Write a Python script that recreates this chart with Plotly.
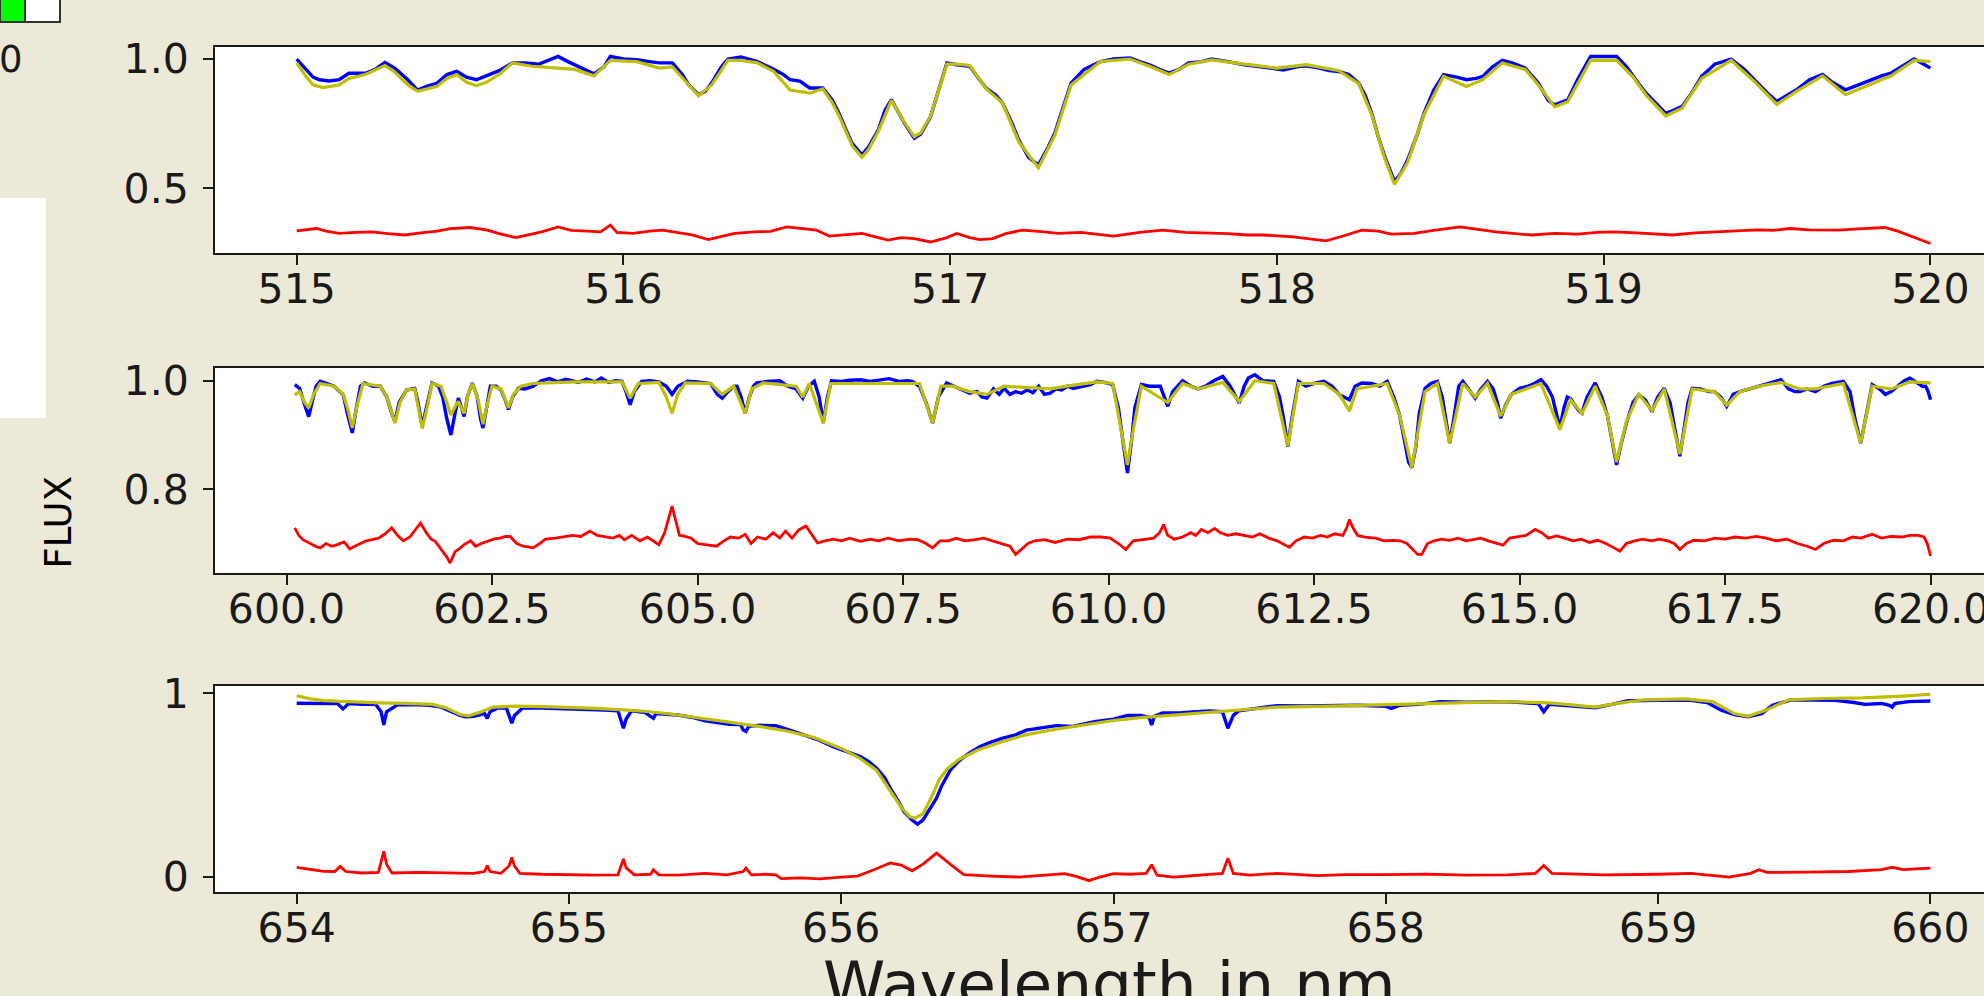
import plotly.graph_objects as go

# ---------------- data (wavelength nm, flux) ----------------
P1_OBS = [(515.00,1.000),(515.03,0.96),(515.05,0.93),(515.07,0.92),(515.10,0.915),(515.13,0.92),(515.16,0.945),(515.21,0.945),(515.24,0.96),(515.27,0.987),(515.30,0.965),(515.34,0.92),(515.37,0.88),(515.40,0.895),(515.43,0.907),(515.46,0.94),(515.49,0.952),(515.52,0.93),(515.55,0.92),(515.58,0.935),(515.62,0.955),(515.66,0.985),(515.70,0.985),(515.74,0.98),(515.78,1.0),(515.80,1.01),(515.83,0.99),(515.87,0.965),(515.91,0.943),(515.94,0.97),(515.96,1.01),(516.00,1.0),(516.04,0.997),(516.08,0.99),(516.11,0.985),(516.15,0.985),(516.18,0.94),(516.20,0.90),(516.23,0.862),(516.25,0.875),(516.27,0.907),(516.30,0.97),(516.32,1.0),(516.36,1.008),(516.41,0.99),(516.46,0.96),(516.49,0.94),(516.51,0.92),(516.54,0.915),(516.57,0.888),(516.61,0.888),(516.64,0.84),(516.66,0.79),(516.68,0.73),(516.70,0.674),(516.73,0.63),(516.75,0.66),(516.78,0.726),(516.80,0.80),(516.82,0.843),(516.84,0.80),(516.86,0.752),(516.89,0.694),(516.91,0.71),(516.94,0.778),(516.97,0.90),(516.99,0.985),(517.02,0.978),(517.06,0.972),(517.09,0.92),(517.11,0.888),(517.14,0.86),(517.16,0.83),(517.19,0.75),(517.21,0.687),(517.24,0.62),(517.27,0.59),(517.30,0.66),(517.32,0.713),(517.35,0.83),(517.37,0.907),(517.41,0.96),(517.46,0.99),(517.50,1.0),(517.55,1.004),(517.58,0.99),(517.61,0.978),(517.64,0.96),(517.67,0.946),(517.70,0.96),(517.73,0.985),(517.77,0.99),(517.80,1.0),(517.85,0.99),(517.90,0.978),(517.95,0.97),(518.00,0.96),(518.02,0.958),(518.06,0.97),(518.09,0.974),(518.13,0.965),(518.16,0.955),(518.19,0.952),(518.22,0.94),(518.25,0.907),(518.27,0.86),(518.29,0.79),(518.31,0.70),(518.33,0.623),(518.36,0.526),(518.38,0.56),(518.40,0.61),(518.43,0.71),(518.45,0.79),(518.48,0.88),(518.51,0.94),(518.55,0.93),(518.58,0.92),(518.61,0.925),(518.63,0.933),(518.66,0.97),(518.69,0.995),(518.72,0.985),(518.76,0.965),(518.80,0.907),(518.83,0.84),(518.85,0.823),(518.89,0.842),(518.92,0.92),(518.96,1.01),(519.00,1.01),(519.04,1.01),(519.07,0.97),(519.09,0.933),(519.11,0.90),(519.13,0.868),(519.16,0.83),(519.19,0.79),(519.21,0.80),(519.24,0.817),(519.27,0.87),(519.30,0.933),(519.34,0.98),(519.39,1.0),(519.43,0.96),(519.46,0.92),(519.50,0.87),(519.53,0.836),(519.56,0.86),(519.59,0.881),(519.63,0.92),(519.67,0.94),(519.70,0.91),(519.74,0.881),(519.78,0.90),(519.82,0.92),(519.85,0.935),(519.88,0.946),(519.92,0.975),(519.95,1.0),(519.98,0.98),(520.00,0.965)]

P1_FIT = [(515.00,0.985),(515.03,0.93),(515.05,0.90),(515.08,0.89),(515.13,0.90),(515.16,0.925),(515.21,0.94),(515.27,0.975),(515.30,0.95),(515.34,0.90),(515.37,0.875),(515.40,0.885),(515.43,0.895),(515.46,0.925),(515.49,0.94),(515.52,0.91),(515.55,0.897),(515.58,0.91),(515.62,0.94),(515.66,0.985),(515.72,0.972),(515.80,0.965),(515.85,0.96),(515.91,0.935),(515.96,0.995),(516.04,0.99),(516.11,0.965),(516.15,0.97),(516.20,0.90),(516.23,0.858),(516.27,0.90),(516.32,0.995),(516.36,0.995),(516.41,0.985),(516.46,0.952),(516.51,0.88),(516.57,0.868),(516.61,0.885),(516.64,0.83),(516.66,0.78),(516.70,0.665),(516.73,0.62),(516.75,0.65),(516.78,0.72),(516.82,0.84),(516.86,0.755),(516.89,0.70),(516.91,0.715),(516.94,0.78),(516.97,0.90),(516.99,0.98),(517.02,0.98),(517.06,0.975),(517.11,0.885),(517.16,0.83),(517.21,0.68),(517.27,0.58),(517.32,0.705),(517.37,0.90),(517.46,0.99),(517.55,1.0),(517.61,0.972),(517.67,0.94),(517.73,0.98),(517.80,0.997),(517.90,0.98),(518.00,0.965),(518.09,0.978),(518.19,0.955),(518.25,0.905),(518.29,0.785),(518.33,0.615),(518.36,0.515),(518.40,0.60),(518.45,0.785),(518.51,0.933),(518.58,0.894),(518.63,0.92),(518.69,0.985),(518.76,0.96),(518.80,0.90),(518.85,0.815),(518.89,0.835),(518.96,0.995),(519.04,0.995),(519.09,0.93),(519.13,0.86),(519.19,0.78),(519.24,0.81),(519.30,0.925),(519.39,0.995),(519.46,0.915),(519.53,0.825),(519.59,0.875),(519.67,0.935),(519.74,0.862),(519.82,0.905),(519.88,0.935),(519.95,0.995),(520.00,0.99)]

P1_RES = [(515.00,0.336),(515.03,0.34),(515.06,0.345),(515.09,0.335),(515.13,0.326),(515.18,0.33),(515.23,0.332),(515.28,0.325),(515.33,0.32),(515.38,0.328),(515.43,0.335),(515.47,0.345),(515.53,0.349),(515.58,0.34),(515.62,0.325),(515.67,0.31),(515.71,0.32),(515.75,0.332),(515.80,0.351),(515.84,0.338),(515.89,0.335),(515.93,0.332),(515.96,0.358),(515.98,0.33),(516.03,0.326),(516.08,0.335),(516.12,0.339),(516.17,0.33),(516.21,0.32),(516.26,0.302),(516.30,0.315),(516.34,0.326),(516.40,0.332),(516.45,0.334),(516.50,0.351),(516.55,0.345),(516.59,0.339),(516.63,0.316),(516.68,0.322),(516.73,0.326),(516.78,0.31),(516.81,0.30),(516.85,0.31),(516.89,0.306),(516.94,0.293),(516.99,0.31),(517.02,0.326),(517.06,0.31),(517.09,0.302),(517.13,0.306),(517.17,0.325),(517.22,0.339),(517.28,0.333),(517.33,0.326),(517.40,0.33),(517.50,0.316),(517.58,0.33),(517.65,0.339),(517.72,0.33),(517.78,0.328),(517.85,0.325),(517.91,0.32),(517.96,0.32),(518.05,0.313),(518.10,0.305),(518.15,0.297),(518.20,0.315),(518.26,0.339),(518.31,0.335),(518.35,0.323),(518.42,0.326),(518.48,0.338),(518.56,0.351),(518.62,0.34),(518.67,0.332),(518.73,0.325),(518.78,0.32),(518.85,0.326),(518.92,0.323),(518.98,0.33),(519.03,0.332),(519.10,0.328),(519.16,0.325),(519.21,0.32),(519.28,0.328),(519.34,0.332),(519.40,0.335),(519.47,0.34),(519.52,0.338),(519.57,0.345),(519.63,0.34),(519.72,0.339),(519.78,0.344),(519.86,0.349),(519.90,0.335),(519.94,0.315),(519.97,0.30),(520.00,0.287)]

P2_OBS = [(600.10,0.993),(600.16,0.986),(600.22,0.956),(600.27,0.934),(600.31,0.96),(600.36,0.99),(600.41,0.999),(600.50,0.995),(600.58,0.99),(600.65,0.98),(600.69,0.974),(600.74,0.94),(600.80,0.904),(600.85,0.95),(600.90,0.99),(600.95,0.996),(601.05,0.99),(601.14,0.99),(601.22,0.97),(601.28,0.94),(601.32,0.925),(601.37,0.96),(601.46,0.983),(601.56,0.986),(601.60,0.96),(601.65,0.916),(601.70,0.95),(601.77,0.996),(601.85,0.99),(601.90,0.97),(601.95,0.93),(602.00,0.90),(602.05,0.94),(602.09,0.968),(602.13,0.95),(602.16,0.934),(602.20,0.97),(602.26,0.996),(602.32,0.97),(602.36,0.93),(602.39,0.913),(602.43,0.95),(602.48,0.99),(602.55,0.99),(602.61,0.983),(602.66,0.965),(602.70,0.947),(602.75,0.97),(602.82,0.986),(602.90,0.985),(603.00,0.99),(603.10,1.0),(603.20,1.004),(603.30,0.998),(603.40,1.003),(603.48,1.0),(603.55,0.997),(603.65,1.003),(603.75,0.998),(603.83,1.005),(603.92,0.997),(604.00,1.0),(604.08,0.999),(604.13,0.98),(604.18,0.956),(604.23,0.98),(604.32,0.999),(604.42,1.0),(604.53,0.998),(604.62,0.99),(604.69,0.975),(604.76,0.99),(604.88,0.999),(605.00,0.998),(605.10,0.997),(605.16,0.995),(605.24,0.975),(605.30,0.968),(605.37,0.98),(605.44,0.99),(605.48,0.99),(605.53,0.97),(605.58,0.94),(605.63,0.97),(605.68,0.99),(605.72,0.996),(605.85,0.999),(606.00,1.0),(606.10,0.99),(606.20,0.985),(606.28,0.968),(606.35,0.99),(606.42,0.999),(606.48,0.97),(606.53,0.922),(606.58,0.97),(606.63,1.0),(606.75,0.999),(606.85,1.001),(606.98,1.002),(607.10,0.999),(607.20,1.001),(607.33,1.004),(607.45,0.999),(607.55,1.0),(607.61,0.999),(607.70,0.99),(607.78,0.96),(607.86,0.922),(607.93,0.97),(608.03,0.996),(608.12,0.99),(608.20,0.985),(608.31,0.977),(608.40,0.98),(608.46,0.97),(608.52,0.968),(608.60,0.985),(608.67,0.975),(608.73,0.986),(608.80,0.975),(608.87,0.98),(608.94,0.977),(609.01,0.983),(609.08,0.978),(609.15,0.99),(609.22,0.975),(609.29,0.977),(609.36,0.985),(609.43,0.983),(609.50,0.99),(609.57,0.986),(609.63,0.988),(609.70,0.99),(609.78,0.993),(609.86,0.999),(609.95,0.997),(610.05,0.993),(610.12,0.95),(610.17,0.894),(610.23,0.83),(610.28,0.89),(610.32,0.95),(610.40,0.993),(610.50,0.99),(610.63,0.99),(610.68,0.97),(610.72,0.953),(610.78,0.98),(610.90,1.0),(611.00,0.99),(611.09,0.985),(611.18,0.99),(611.28,1.0),(611.39,1.008),(611.48,0.99),(611.55,0.97),(611.59,0.959),(611.65,0.99),(611.70,1.005),(611.78,1.011),(611.88,1.0),(612.01,0.999),(612.08,0.97),(612.13,0.93),(612.18,0.879),(612.23,0.93),(612.31,0.999),(612.40,0.99),(612.50,0.995),(612.62,0.999),(612.72,0.99),(612.81,0.974),(612.87,0.97),(612.93,0.965),(613.00,0.99),(613.08,0.996),(613.20,0.995),(613.30,0.99),(613.39,0.999),(613.47,0.97),(613.54,0.937),(613.60,0.89),(613.65,0.85),(613.69,0.84),(613.74,0.88),(613.78,0.94),(613.85,0.986),(613.92,0.995),(614.00,0.999),(614.06,0.97),(614.10,0.93),(614.15,0.885),(614.20,0.93),(614.26,0.99),(614.31,0.999),(614.38,0.985),(614.46,0.968),(614.53,0.985),(614.61,0.999),(614.68,0.985),(614.73,0.96),(614.77,0.931),(614.83,0.955),(614.90,0.975),(615.00,0.986),(615.10,0.99),(615.18,0.995),(615.26,1.002),(615.33,0.99),(615.40,0.97),(615.45,0.935),(615.49,0.913),(615.54,0.95),(615.58,0.97),(615.62,0.967),(615.67,0.955),(615.72,0.945),(615.76,0.94),(615.82,0.97),(615.92,0.996),(616.00,0.97),(616.07,0.935),(616.12,0.89),(616.18,0.845),(616.23,0.88),(616.30,0.922),(616.38,0.96),(616.45,0.974),(616.53,0.965),(616.61,0.943),(616.68,0.97),(616.76,0.986),(616.83,0.96),(616.89,0.91),(616.95,0.861),(617.00,0.91),(617.05,0.96),(617.10,0.986),(617.20,0.985),(617.30,0.98),(617.37,0.98),(617.45,0.97),(617.52,0.953),(617.60,0.975),(617.68,0.98),(617.80,0.985),(617.91,0.99),(618.00,0.995),(618.10,0.999),(618.18,1.002),(618.27,0.985),(618.35,0.98),(618.41,0.98),(618.50,0.985),(618.60,0.98),(618.70,0.99),(618.80,0.995),(618.94,0.999),(619.02,0.98),(619.08,0.93),(619.15,0.885),(619.21,0.93),(619.29,0.993),(619.38,0.985),(619.45,0.975),(619.52,0.98),(619.60,0.99),(619.68,1.0),(619.75,1.005),(619.82,0.998),(619.90,0.99),(619.94,0.99),(619.97,0.98),(620.00,0.965)]

P2_FIT = [(600.10,0.974),(600.16,0.98),(600.22,0.96),(600.27,0.95),(600.33,0.975),(600.41,0.995),(600.58,0.99),(600.69,0.975),(600.75,0.945),(600.80,0.913),(600.86,0.955),(600.93,0.995),(601.14,0.99),(601.22,0.97),(601.32,0.922),(601.38,0.96),(601.46,0.983),(601.56,0.985),(601.65,0.912),(601.71,0.95),(601.77,0.995),(601.88,0.99),(601.95,0.96),(602.00,0.937),(602.06,0.955),(602.09,0.962),(602.16,0.94),(602.21,0.975),(602.26,0.995),(602.33,0.965),(602.39,0.92),(602.44,0.955),(602.50,0.99),(602.61,0.985),(602.70,0.95),(602.76,0.975),(602.85,0.99),(603.00,0.995),(603.50,0.998),(604.08,0.998),(604.18,0.968),(604.28,0.995),(604.53,0.997),(604.62,0.97),(604.69,0.94),(604.76,0.975),(604.85,0.996),(605.16,0.995),(605.30,0.975),(605.44,0.99),(605.58,0.94),(605.66,0.985),(605.80,0.996),(606.20,0.99),(606.28,0.97),(606.36,0.995),(606.53,0.922),(606.62,0.995),(607.70,0.995),(607.86,0.922),(607.96,0.99),(608.10,0.99),(608.31,0.98),(608.52,0.975),(608.73,0.99),(609.01,0.988),(609.29,0.985),(609.57,0.992),(609.86,0.998),(610.05,0.995),(610.17,0.90),(610.23,0.845),(610.29,0.90),(610.40,0.99),(610.72,0.96),(610.90,0.995),(611.09,0.985),(611.39,0.997),(611.59,0.962),(611.78,1.0),(612.01,0.995),(612.18,0.88),(612.31,0.995),(612.62,0.995),(612.81,0.975),(612.93,0.944),(613.02,0.985),(613.39,0.995),(613.54,0.937),(613.69,0.84),(613.85,0.98),(614.00,0.995),(614.15,0.885),(614.31,0.995),(614.46,0.97),(614.61,0.995),(614.77,0.935),(614.90,0.975),(615.26,0.995),(615.49,0.91),(615.62,0.965),(615.76,0.94),(615.92,0.99),(616.07,0.935),(616.18,0.85),(616.30,0.925),(616.45,0.975),(616.61,0.945),(616.76,0.985),(616.95,0.865),(617.10,0.985),(617.37,0.98),(617.52,0.955),(617.68,0.98),(617.91,0.99),(618.18,0.997),(618.41,0.985),(618.60,0.985),(618.94,0.995),(619.15,0.885),(619.29,0.99),(619.52,0.985),(619.75,0.998),(620.00,0.996)]

P2_RES = [(600.10,0.729),(600.15,0.715),(600.20,0.707),(600.28,0.70),(600.35,0.695),(600.41,0.692),(600.48,0.70),(600.55,0.695),(600.62,0.698),(600.70,0.703),(600.77,0.69),(600.83,0.695),(600.90,0.70),(600.97,0.705),(601.04,0.707),(601.12,0.71),(601.20,0.718),(601.28,0.729),(601.35,0.715),(601.42,0.705),(601.50,0.712),(601.57,0.725),(601.63,0.738),(601.70,0.72),(601.76,0.708),(601.81,0.704),(601.88,0.69),(601.95,0.675),(601.99,0.664),(602.05,0.685),(602.10,0.69),(602.16,0.698),(602.24,0.705),(602.30,0.695),(602.37,0.70),(602.44,0.704),(602.52,0.708),(602.60,0.71),(602.66,0.713),(602.72,0.713),(602.80,0.70),(602.88,0.695),(603.00,0.692),(603.08,0.70),(603.15,0.708),(603.27,0.71),(603.38,0.712),(603.48,0.715),(603.58,0.713),(603.69,0.723),(603.78,0.715),(603.88,0.712),(603.97,0.71),(604.05,0.715),(604.11,0.707),(604.20,0.715),(604.30,0.705),(604.39,0.712),(604.46,0.705),(604.53,0.698),(604.60,0.72),(604.65,0.75),(604.69,0.769),(604.73,0.745),(604.78,0.715),(604.85,0.713),(604.92,0.71),(605.00,0.70),(605.10,0.698),(605.23,0.695),(605.32,0.705),(605.40,0.712),(605.50,0.71),(605.58,0.717),(605.65,0.70),(605.73,0.712),(605.83,0.708),(605.92,0.72),(606.00,0.71),(606.07,0.723),(606.15,0.71),(606.23,0.725),(606.32,0.732),(606.40,0.715),(606.46,0.701),(606.55,0.705),(606.65,0.708),(606.75,0.705),(606.85,0.71),(606.98,0.704),(607.10,0.708),(607.20,0.705),(607.32,0.71),(607.45,0.705),(607.58,0.708),(607.68,0.707),(607.78,0.70),(607.86,0.692),(607.95,0.705),(608.05,0.705),(608.15,0.71),(608.25,0.705),(608.38,0.707),(608.48,0.71),(608.58,0.705),(608.68,0.70),(608.80,0.695),(608.87,0.68),(608.94,0.69),(609.02,0.70),(609.10,0.705),(609.22,0.707),(609.35,0.702),(609.50,0.708),(609.64,0.707),(609.78,0.712),(609.91,0.712),(610.02,0.71),(610.12,0.70),(610.21,0.689),(610.30,0.705),(610.42,0.708),(610.55,0.71),(610.62,0.72),(610.67,0.735),(610.72,0.715),(610.80,0.708),(610.90,0.712),(611.00,0.72),(611.06,0.715),(611.13,0.726),(611.21,0.72),(611.29,0.728),(611.36,0.72),(611.45,0.715),(611.55,0.718),(611.65,0.715),(611.75,0.712),(611.84,0.718),(611.95,0.71),(612.05,0.705),(612.12,0.70),(612.20,0.693),(612.28,0.705),(612.38,0.712),(612.48,0.71),(612.58,0.715),(612.66,0.712),(612.75,0.718),(612.85,0.715),(612.90,0.73),(612.93,0.744),(612.97,0.73),(613.03,0.715),(613.12,0.712),(613.25,0.71),(613.35,0.705),(613.45,0.706),(613.55,0.705),(613.63,0.70),(613.70,0.69),(613.76,0.68),(613.81,0.68),(613.88,0.70),(613.96,0.705),(614.05,0.708),(614.15,0.706),(614.25,0.71),(614.35,0.705),(614.45,0.708),(614.53,0.71),(614.62,0.705),(614.72,0.70),(614.80,0.697),(614.88,0.71),(614.98,0.712),(615.08,0.715),(615.19,0.726),(615.27,0.72),(615.35,0.71),(615.45,0.714),(615.55,0.71),(615.65,0.705),(615.75,0.708),(615.85,0.702),(615.95,0.706),(616.05,0.70),(616.15,0.692),(616.22,0.686),(616.30,0.70),(616.40,0.705),(616.50,0.708),(616.60,0.705),(616.70,0.708),(616.80,0.705),(616.88,0.70),(616.95,0.689),(617.03,0.70),(617.12,0.706),(617.25,0.705),(617.38,0.71),(617.50,0.708),(617.62,0.712),(617.75,0.71),(617.88,0.713),(618.00,0.71),(618.12,0.705),(618.25,0.708),(618.38,0.70),(618.50,0.695),(618.60,0.689),(618.70,0.70),(618.82,0.706),(618.94,0.705),(619.05,0.712),(619.15,0.71),(619.29,0.717),(619.40,0.71),(619.52,0.713),(619.65,0.712),(619.75,0.715),(619.85,0.715),(619.92,0.712),(619.96,0.70),(620.00,0.677)]

P3_OBS = [(654.00,0.946),(654.07,0.946),(654.12,0.944),(654.15,0.944),(654.17,0.915),(654.19,0.944),(654.24,0.94),(654.29,0.94),(654.31,0.90),(654.32,0.828),(654.33,0.90),(654.37,0.937),(654.45,0.937),(654.49,0.935),(654.53,0.925),(654.56,0.905),(654.60,0.88),(654.62,0.873),(654.65,0.875),(654.68,0.885),(654.69,0.89),(654.70,0.864),(654.71,0.90),(654.74,0.92),(654.77,0.92),(654.78,0.88),(654.79,0.837),(654.80,0.88),(654.83,0.92),(654.90,0.92),(654.96,0.918),(655.05,0.914),(655.13,0.909),(655.18,0.905),(655.19,0.85),(655.20,0.81),(655.21,0.86),(655.23,0.905),(655.28,0.895),(655.31,0.864),(655.32,0.89),(655.36,0.888),(655.40,0.882),(655.45,0.87),(655.50,0.85),(655.55,0.84),(655.59,0.832),(655.63,0.83),(655.64,0.80),(655.65,0.792),(655.66,0.82),(655.70,0.826),(655.76,0.824),(655.81,0.80),(655.86,0.777),(655.91,0.75),(655.97,0.71),(656.02,0.685),(656.07,0.656),(656.10,0.63),(656.13,0.592),(656.16,0.54),(656.18,0.484),(656.21,0.41),(656.23,0.357),(656.26,0.31),(656.28,0.288),(656.30,0.31),(656.32,0.357),(656.35,0.43),(656.37,0.50),(656.40,0.58),(656.43,0.63),(656.47,0.675),(656.51,0.71),(656.55,0.735),(656.59,0.755),(656.64,0.774),(656.68,0.80),(656.73,0.812),(656.79,0.824),(656.85,0.82),(656.93,0.846),(657.00,0.86),(657.05,0.879),(657.10,0.88),(657.13,0.87),(657.14,0.828),(657.15,0.875),(657.18,0.893),(657.25,0.895),(657.35,0.904),(657.40,0.90),(657.42,0.81),(657.44,0.88),(657.46,0.905),(657.53,0.92),(657.60,0.933),(657.70,0.932),(657.78,0.933),(657.90,0.935),(658.00,0.93),(658.02,0.918),(658.05,0.935),(658.12,0.94),(658.20,0.955),(658.30,0.952),(658.43,0.955),(658.50,0.95),(658.56,0.945),(658.58,0.90),(658.60,0.94),(658.65,0.935),(658.72,0.93),(658.77,0.922),(658.83,0.94),(658.89,0.96),(659.00,0.962),(659.12,0.962),(659.18,0.95),(659.23,0.91),(659.28,0.885),(659.33,0.873),(659.38,0.89),(659.42,0.935),(659.49,0.965),(659.55,0.965),(659.65,0.962),(659.72,0.95),(659.76,0.94),(659.82,0.945),(659.85,0.935),(659.86,0.925),(659.87,0.945),(659.92,0.955),(659.99,0.96),(660.00,0.958)]

P3_FIT = [(654.00,0.987),(654.05,0.97),(654.10,0.96),(654.20,0.953),(654.30,0.948),(654.40,0.945),(654.50,0.94),(654.55,0.92),(654.60,0.885),(654.63,0.878),(654.67,0.895),(654.72,0.925),(654.80,0.93),(654.90,0.928),(655.00,0.925),(655.10,0.918),(655.20,0.91),(655.30,0.90),(655.40,0.882),(655.50,0.862),(655.60,0.84),(655.70,0.82),(655.80,0.795),(655.90,0.76),(656.00,0.70),(656.07,0.645),(656.13,0.58),(656.18,0.47),(656.22,0.38),(656.25,0.33),(656.27,0.32),(656.30,0.345),(656.33,0.43),(656.36,0.53),(656.39,0.59),(656.43,0.638),(656.50,0.69),(656.59,0.737),(656.68,0.775),(656.79,0.805),(656.90,0.83),(657.00,0.852),(657.10,0.868),(657.20,0.88),(657.30,0.892),(657.40,0.905),(657.50,0.915),(657.60,0.925),(657.80,0.93),(658.00,0.938),(658.20,0.948),(658.43,0.955),(658.60,0.948),(658.70,0.935),(658.77,0.925),(658.85,0.945),(658.95,0.965),(659.10,0.97),(659.20,0.955),(659.28,0.89),(659.33,0.875),(659.40,0.91),(659.48,0.965),(659.60,0.972),(659.75,0.975),(659.90,0.985),(660.00,0.995)]

P3_RES = [(654.00,0.053),(654.05,0.04),(654.10,0.031),(654.14,0.03),(654.16,0.058),(654.18,0.03),(654.24,0.022),(654.30,0.025),(654.31,0.08),(654.32,0.14),(654.33,0.07),(654.35,0.022),(654.45,0.025),(654.55,0.022),(654.65,0.02),(654.69,0.03),(654.70,0.063),(654.71,0.03),(654.75,0.02),(654.78,0.06),(654.79,0.107),(654.80,0.06),(654.82,0.02),(654.90,0.015),(655.00,0.012),(655.10,0.01),(655.18,0.012),(655.19,0.06),(655.20,0.098),(655.21,0.05),(655.24,0.012),(655.30,0.015),(655.31,0.04),(655.33,0.012),(655.40,0.01),(655.50,0.02),(655.58,0.012),(655.64,0.03),(655.65,0.049),(655.67,0.012),(655.72,0.015),(655.76,0.012),(655.78,-0.009),(655.85,-0.005),(655.92,-0.01),(656.00,0.0),(656.06,0.005),(656.12,0.04),(656.18,0.076),(656.22,0.065),(656.26,0.034),(656.30,0.07),(656.35,0.13),(656.40,0.07),(656.45,0.013),(656.55,0.005),(656.65,0.0),(656.75,0.01),(656.82,0.018),(656.86,0.005),(656.91,-0.02),(656.95,0.0),(657.00,0.018),(657.06,0.015),(657.12,0.02),(657.14,0.067),(657.16,0.01),(657.22,0.0),(657.30,0.01),(657.40,0.02),(657.42,0.103),(657.44,0.02),(657.50,0.01),(657.60,0.02),(657.75,0.008),(657.85,0.013),(658.00,0.013),(658.15,0.016),(658.30,0.01),(658.45,0.012),(658.55,0.02),(658.58,0.063),(658.61,0.02),(658.70,0.015),(658.80,0.012),(659.00,0.015),(659.12,0.02),(659.26,0.0),(659.34,0.02),(659.37,0.04),(659.40,0.025),(659.55,0.027),(659.70,0.03),(659.82,0.04),(659.86,0.053),(659.90,0.04),(659.95,0.045),(660.00,0.049)]

# tick values / labels
P1_XTICKS = [515, 516, 517, 518, 519, 520]
P1_XTEXT = ["515", "516", "517", "518", "519", "520"]
P2_XTICKS = [600.0, 602.5, 605.0, 607.5, 610.0, 612.5, 615.0, 617.5, 620.0]
P2_XTEXT = ["600.0", "602.5", "605.0", "607.5", "610.0", "612.5", "615.0", "617.5", "620.0"]
P3_XTICKS = [654, 655, 656, 657, 658, 659, 660]
P3_XTEXT = ["654", "655", "656", "657", "658", "659", "660"]
P1_YTICKS, P1_YTEXT = [0.5, 1.0], ["0.5", "1.0"]
P2_YTICKS, P2_YTEXT = [0.8, 1.0], ["0.8", "1.0"]
P3_YTICKS, P3_YTEXT = [0, 1], ["0", "1"]

X_LABEL = "Wavelength in nm"
Y_LABEL = "FLUX"

# ---------------- figure ----------------
W, H = 1984, 996
BG = "#ECE9D8"
FONT = "DejaVu Sans"
INK = "#1a1a1a"

def unzip(pairs):
    return [p[0] for p in pairs], [p[1] for p in pairs]

fig = go.Figure()
panels = [
    (P1_OBS, P1_FIT, P1_RES, "x", "y"),
    (P2_OBS, P2_FIT, P2_RES, "x2", "y2"),
    (P3_OBS, P3_FIT, P3_RES, "x3", "y3"),
]
for obs, fit, res, xa, ya in panels:
    for data, color, width in ((obs, "#0000FF", 3.4), (fit, "#BFBF00", 3.2), (res, "#FF0000", 2.8)):
        xs, ys = unzip(data)
        fig.add_trace(go.Scatter(x=xs, y=ys, mode="lines", xaxis=xa, yaxis=ya,
                                 line=dict(color=color, width=width), showlegend=False,
                                 hoverinfo="skip"))

def px_dom_y(top, bottom):
    return [(H - bottom) / H, (H - top) / H]

xdom = [215 / W, 1.0]
axis_common = dict(showline=True, linecolor=INK, linewidth=2, ticks="outside", ticklen=10,
                   tickwidth=2, tickcolor=INK, showgrid=False, zeroline=False,
                   automargin=False, ticklabeloverflow="allow",
                   tickfont=dict(family=FONT, size=41, color=INK))
XSTAND = -11

fig.update_layout(
    width=W, height=H, margin=dict(l=0, r=0, t=0, b=0, autoexpand=False),
    paper_bgcolor=BG, plot_bgcolor="white", showlegend=False,
    xaxis=dict(domain=xdom, range=[514.75, 520.164], anchor="y", mirror=True,
               tickvals=P1_XTICKS, ticktext=P1_XTEXT, ticklabelstandoff=XSTAND, **axis_common),
    yaxis=dict(domain=px_dom_y(47, 253), range=[0.2504, 1.0465], anchor="x",
               tickvals=P1_YTICKS, ticktext=P1_YTEXT, ticklabelstandoff=6, **axis_common),
    xaxis2=dict(domain=xdom, range=[599.13, 620.65], anchor="y2", mirror=True,
                tickvals=P2_XTICKS, ticktext=P2_XTEXT, ticklabelstandoff=XSTAND, **axis_common),
    yaxis2=dict(domain=px_dom_y(367.5, 572.5), range=[0.6466, 1.0245], anchor="x2",
                tickvals=P2_YTICKS, ticktext=P2_YTEXT, ticklabelstandoff=6, **axis_common),
    xaxis3=dict(domain=xdom, range=[653.7, 660.197], anchor="y3", mirror=True,
                tickvals=P3_XTICKS, ticktext=P3_XTEXT, ticklabelstandoff=XSTAND, **axis_common),
    yaxis3=dict(domain=px_dom_y(686, 892), range=[-0.0815, 1.04], anchor="x3",
                tickvals=P3_YTICKS, ticktext=P3_YTEXT, ticklabelstandoff=6, **axis_common),
)

# window decorations at the left edge (part of the screenshot)
fig.add_shape(type="rect", xref="paper", yref="paper", x0=0, x1=25 / W, y0=1 - 22 / H, y1=1.01,
              fillcolor="#00FF00", line=dict(color="#333", width=2), layer="above")
fig.add_shape(type="rect", xref="paper", yref="paper", x0=25 / W, x1=60 / W, y0=1 - 22 / H, y1=1.01,
              fillcolor="white", line=dict(color="#333", width=2), layer="above")
fig.add_shape(type="rect", xref="paper", yref="paper", x0=0, x1=46 / W, y0=1 - 418 / H, y1=1 - 198 / H,
              fillcolor="white", line=dict(width=0), layer="below")
fig.add_annotation(text="0", xref="paper", yref="paper", x=11 / W, y=1 - 60 / H, showarrow=False,
                   font=dict(family=FONT, size=37, color=INK), xanchor="center", yanchor="middle")

fig.add_annotation(text=Y_LABEL, xref="paper", yref="paper", x=57.5 / W, y=1 - 523 / H, showarrow=False,
                   textangle=-90, font=dict(family=FONT, size=37, color="black"),
                   xanchor="center", yanchor="middle")
fig.add_annotation(text=X_LABEL, xref="paper", yref="paper", x=1109 / W, y=1 - 947 / H, showarrow=False,
                   font=dict(family=FONT, size=63, color=INK), xanchor="center", yanchor="top",
                   borderpad=0)

fig.write_html("out.html", config={"displayModeBar": False},
               post_script="document.body.style.margin='0px';document.body.style.overflow='hidden';")
